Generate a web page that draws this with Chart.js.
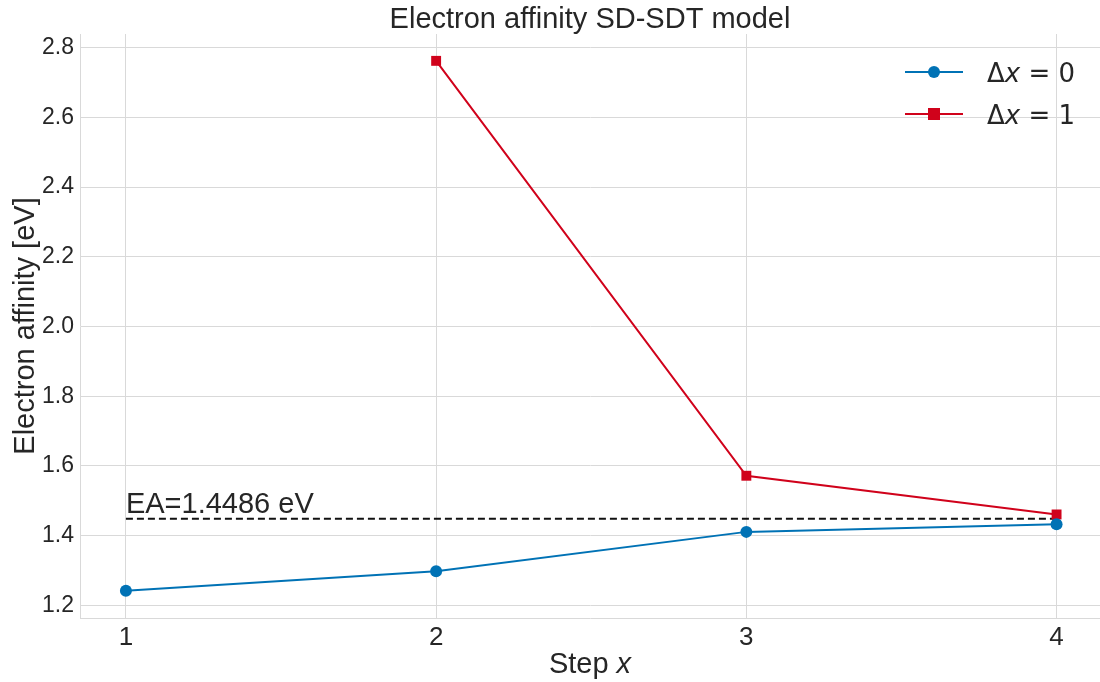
<!DOCTYPE html>
<html><head><meta charset="utf-8">
<script src="https://cdn.jsdelivr.net/npm/chart.js@4/dist/chart.umd.min.js"></script>
<style>html,body{margin:0;padding:0;background:#fff;overflow:hidden}#wrap{width:1100px;height:682px}</style>
</head><body><div id="wrap"><canvas id="c" width="1100" height="682"></canvas></div>
<script>
const steps = [1, 2, 3, 4];
const ea0 = [1.242, 1.298, 1.411, 1.433];
const ea1 = [null, 2.762, 1.572, 1.461];
const eaRef = 1.4486;
const yTicks = [1.2, 1.4, 1.6, 1.8, 2.0, 2.2, 2.4, 2.6, 2.8];
const blue = '#0072b5', red = '#d0021b';
const FONT = "'Liberation Sans', Arial, sans-serif";
const MFONT = "'DejaVu Sans', sans-serif";
const txt = '#262626';

const overlay = {
  id: 'overlay',
  afterDraw(chart) {
    const ctx = chart.ctx, a = chart.chartArea;
    ctx.save();
    ctx.fillStyle = txt;
    // title
    ctx.font = `29px ${FONT}`; ctx.textAlign = 'center'; ctx.textBaseline = 'alphabetic';
    ctx.fillText('Electron affinity SD-SDT model', (a.left + a.right) / 2, 28);
    // x title
    ctx.font = `29px ${FONT}`;
    const s1 = 'Step ', w1 = ctx.measureText(s1).width;
    ctx.font = `italic 29px ${FONT}`;
    const w2 = ctx.measureText('x').width;
    let x0 = (a.left + a.right) / 2 - (w1 + w2) / 2;
    ctx.textAlign = 'left';
    ctx.font = `29px ${FONT}`; ctx.fillText(s1, x0, 673);
    ctx.font = `italic 29px ${FONT}`; ctx.fillText('x', x0 + w1, 673);
    // y title
    ctx.save();
    ctx.translate(34, (a.top + a.bottom) / 2);
    ctx.rotate(-Math.PI / 2);
    ctx.textAlign = 'center';
    ctx.font = `29px ${FONT}`;
    ctx.fillText('Electron affinity [eV]', 0, 0);
    ctx.restore();
    // EA label
    const xs = chart.scales.x, ys = chart.scales.y;
    ctx.textAlign = 'left';
    ctx.font = `29px ${FONT}`;
    ctx.fillText('EA=' + eaRef.toFixed(4) + ' eV', xs.getPixelForValue(1), ys.getPixelForValue(eaRef) - 6);
    // legend
    const rows = [{c: blue, m: 'circle', v: '0'}, {c: red, m: 'rect', v: '1'}];
    rows.forEach((r, i) => {
      const y = 72 + i * 42;
      ctx.strokeStyle = r.c; ctx.lineWidth = 2;
      ctx.beginPath(); ctx.moveTo(905, y); ctx.lineTo(963, y); ctx.stroke();
      ctx.fillStyle = r.c;
      if (r.m === 'circle') { ctx.beginPath(); ctx.arc(934, y, 6, 0, Math.PI * 2); ctx.fill(); }
      else ctx.fillRect(928, y - 6, 12, 12);
      ctx.fillStyle = txt; ctx.textBaseline = 'alphabetic';
      let x = 987; const by = y + 10;
      ctx.font = `26px ${MFONT}`; ctx.fillText('Δ', x, by); x += ctx.measureText('Δ').width;
      ctx.font = `oblique 26px ${MFONT}`; ctx.fillText('x', x, by); x += ctx.measureText('x').width;
      ctx.font = `26px ${MFONT}`; ctx.fillText(' = ' + r.v, x, by);
    });
    ctx.restore();
  }
};

new Chart(document.getElementById('c'), {
  type: 'line',
  data: {
    datasets: [
      {label: 'Δx = 0', data: steps.map((s, i) => ({x: s, y: ea0[i]})), borderColor: blue, backgroundColor: blue,
       borderWidth: 2, pointStyle: 'circle', pointRadius: 6, pointHoverRadius: 6, pointBorderWidth: 0, clip: false},
      {label: 'Δx = 1', data: steps.map((s, i) => ({x: s, y: ea1[i]})).filter(p => p.y !== null), borderColor: red, backgroundColor: red,
       borderWidth: 2, pointStyle: 'rect', pointRadius: 7, pointHoverRadius: 7, pointBorderWidth: 0, clip: false},
      {label: 'EA', data: [{x: 1, y: eaRef}, {x: 4, y: eaRef}], borderColor: '#111', borderWidth: 2,
       borderDash: [7, 4], pointRadius: 0}
    ]
  },
  options: {
    responsive: false, animation: false, devicePixelRatio: 1,
    layout: {autoPadding: false, padding: {top: 34, right: 0, left: 0, bottom: 0}},
    plugins: {legend: {display: false}, tooltip: {enabled: false}, title: {display: false}},
    scales: {
      x: {
        type: 'linear', min: 0.852, max: 4.14,
        afterBuildTicks: s => { s.ticks = steps.map(v => ({value: v})); },
        afterFit: s => { s.height = 64; s.paddingLeft = 0; s.paddingRight = 0; },
        ticks: {color: txt, font: {family: FONT, size: 26}, padding: 4, callback: v => String(v)},
        grid: {color: '#d9d9d9', lineWidth: 1, drawTicks: false},
        border: {color: '#d9d9d9', width: 1}
      },
      y: {
        type: 'linear', min: 1.164, max: 2.839,
        afterBuildTicks: s => { s.ticks = yTicks.map(v => ({value: v})); },
        afterFit: s => { s.width = 80; s.paddingTop = 0; s.paddingBottom = 0; },
        ticks: {color: txt, font: {family: FONT, size: 23}, padding: 6, callback: v => v.toFixed(1)},
        grid: {color: '#d9d9d9', lineWidth: 1, drawTicks: false},
        border: {color: '#d9d9d9', width: 1}
      }
    }
  },
  plugins: [overlay]
});
</script></body></html>
